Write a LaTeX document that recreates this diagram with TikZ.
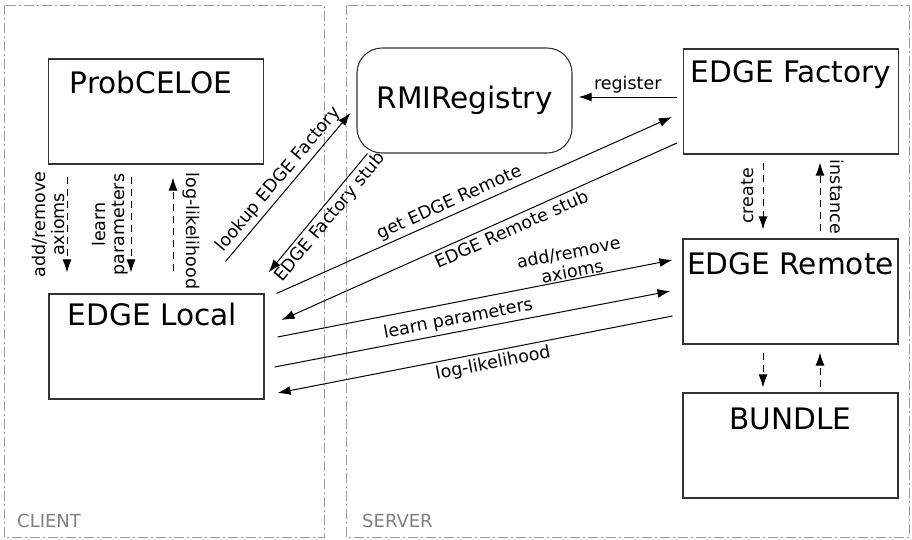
\documentclass[tikz,border=0pt]{standalone}
\usepackage{fontspec}
\setmainfont{DejaVu Sans}
\usetikzlibrary{arrows.meta,calc}
\begin{document}
\begin{tikzpicture}[x=1pt,y=-1pt,
  box/.style={draw=black!80,line width=1.1pt,minimum width=215pt,minimum height=105pt,inner sep=0pt},
  title/.style={anchor=north,inner sep=12pt,font=\fontsize{29.6pt}{34pt}\selectfont},
  msg/.style={line width=1pt,-{Latex[length=13pt,width=9pt]}},
  call/.style={msg,dash pattern=on 7pt off 5pt},
  lab/.style={font=\fontsize{17.5pt}{19pt}\selectfont},
  frame/.style={draw=black!40,line width=1pt,dash pattern=on 10pt off 3pt on 2pt off 3pt},
  side/.style={font=\fontsize{18pt}{21pt}\selectfont,text=black!50,inner sep=0pt}]
  \useasboundingbox (0,0) rectangle (912,539);
  % client and server areas
  \draw[frame] (4,5) rectangle (324,537);
  \draw[frame] (346,5) rectangle (909,537);
  \node[side,anchor=base west] (client) at (17,527) {CLIENT};
  \node[side,anchor=base west] (server) at (362,527) {SERVER};
  % components
  \node[box,label={[title,xshift=-5pt]north:ProbCELOE}] (celoe) at (156,111.5) {};
  \node[box,label={[title,xshift=-4pt,inner sep=9pt]north:EDGE Local}] (local) at (156.5,346.5) {};
  \node[box,rounded corners=25pt,font=\fontsize{29.6pt}{34pt}\selectfont] (rmi) at (464.5,100.5) {RMIRegistry};
  \node[box,label={[title]north:EDGE Factory}] (factory) at (791,101.5) {};
  \node[box,label={[title,inner sep=14pt]north:EDGE Remote}] (remote) at (790.5,291.5) {};
  \node[box,label={[title,inner sep=15pt]north:BUNDLE}] (bundle) at (790.5,445.5) {};
  % client side
  \draw[call] ($(celoe.south)+(-89,12)$) -- node[lab,midway,rotate=90,anchor=south,align=center,inner sep=2pt] {add/remove\\axioms} ($(local.north)+(-89.5,-21)$);
  \draw[call] ($(celoe.south)+(-25,12)$) -- node[lab,midway,rotate=90,anchor=south,align=center,inner sep=2pt] {learn\\parameters} ($(local.north)+(-25.5,-21)$);
  \draw[call] ($(local.north)+(16.5,-22)$) -- node[lab,pos=0.43,rotate=-90,anchor=south,inner sep=9pt] {log-likelihood} ($(celoe.south)+(17,13)$);
  % remote calls
  \draw[msg] ($(factory.west)+(-6,-4.5)$) -- node[lab,above] {register} ($(rmi.east)+(6,-3.5)$);
  \draw[msg] ($(local.north east)+(-39,-32)$) -- node[lab,sloped,above] {lookup EDGE Factory} ($(rmi.west)+(-6,12.5)$);
  \draw[msg] ($(rmi.south west)+(11,0)$) -- node[lab,sloped,below,pos=0.47] {EDGE Factory stub} ($(local.north east)+(4,-21)$);
  \draw[msg] ($(local.north east)+(12,0)$) -- node[lab,sloped,above,pos=0.45] {get EDGE Remote} ($(factory.west)+(-11,15.5)$);
  \draw[msg] ($(factory.west)+(-6,41.5)$) -- node[lab,sloped,below,pos=0.43] {EDGE Remote stub} ($(local.east)+(17,-26.5)$);
  \draw[msg] ($(local.east)+(13,-9.5)$) -- node[lab,sloped,above,pos=0.75,align=center,inner sep=1pt] {add/remove\\axioms} ($(remote.west)+(-10,-31.5)$);
  \draw[msg] ($(local.east)+(10,20.5)$) -- node[lab,sloped,above,pos=0.47] {learn parameters} ($(remote.west)+(-12,-0.5)$);
  \draw[msg] ($(remote.west)+(-10,24.5)$) -- node[lab,sloped,below,pos=0.46] {log-likelihood} ($(local.east)+(13,46.5)$);
  % server side
  \draw[call] ($(factory.south)+(-28,8)$) -- node[lab,midway,rotate=90,anchor=south,inner sep=9pt] {create} ($(remote.north)+(-27.5,-9)$);
  \draw[call] ($(remote.north)+(29.5,-7)$) -- node[lab,midway,rotate=-90,anchor=south,inner sep=10pt] {instance} ($(factory.south)+(29,8)$);
  \draw[call] ($(remote.south)+(-27.5,8)$) -- ($(bundle.north)+(-27.5,-5)$);
  \draw[call] ($(bundle.north)+(29.5,-5)$) -- ($(remote.south)+(29.5,8)$);
\end{tikzpicture}
\end{document}
